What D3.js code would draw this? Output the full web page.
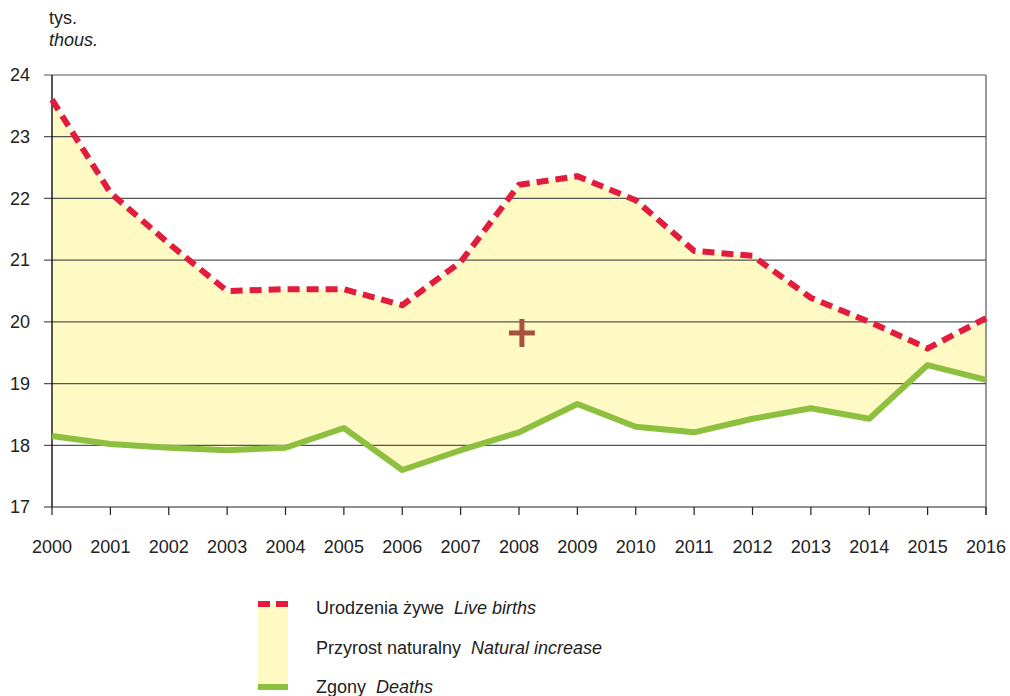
<!DOCTYPE html>
<html>
<head>
<meta charset="utf-8">
<script src="https://cdn.jsdelivr.net/npm/d3@7"></script>
<style>
  body { margin: 0; background: #fff; }
  svg { font-family: "Liberation Sans", Arial, sans-serif; }
</style>
</head>
<body>
<div id="chart"></div>
<script>
const years = [2000, 2001, 2002, 2003, 2004, 2005, 2006, 2007, 2008, 2009, 2010, 2011, 2012, 2013, 2014, 2015, 2016];
const births = [23.6, 22.09, 21.27, 20.5, 20.53, 20.53, 20.27, 20.97, 22.22, 22.36, 21.97, 21.15, 21.07, 20.39, 20.0, 19.57, 20.06];
const deaths = [18.15, 18.02, 17.96, 17.92, 17.96, 18.28, 17.6, 17.92, 18.21, 18.67, 18.3, 18.21, 18.43, 18.6, 18.43, 19.3, 19.06];
const yTicks = [17, 18, 19, 20, 21, 22, 23, 24];

const margin = {top: 75, right: 24, bottom: 189, left: 52};
const width = 1010 - margin.left - margin.right;
const height = 696 - margin.top - margin.bottom;

const svg = d3.select('#chart')
  .append('svg')
  .attr('width', 1010)
  .attr('height', 696);

const g = svg.append('g').attr('transform', `translate(${margin.left},${margin.top})`);

const x = d3.scaleLinear().domain([2000, 2016]).range([0, width]);
const y = d3.scaleLinear().domain([17, 24]).range([height, 0]);

const data = years.map((yr, i) => ({year: yr, b: births[i], d: deaths[i]}));

// fill between the two series
g.append('path')
  .datum(data)
  .attr('fill', '#fff9c4')
  .attr('d', d3.area().x(d => x(d.year)).y0(d => y(d.d)).y1(d => y(d.b)));

// grid lines
g.selectAll('.grid')
  .data(yTicks)
  .enter()
  .append('line')
  .attr('x1', -8)
  .attr('x2', width)
  .attr('y1', d => y(d))
  .attr('y2', d => y(d))
  .attr('stroke', d => d === 17 ? '#222' : '#555')
  .attr('stroke-width', 1.2);

g.selectAll('.ylab')
  .data(yTicks)
  .enter()
  .append('text')
  .attr('x', -22)
  .attr('y', d => y(d))
  .attr('dy', '0.35em')
  .attr('text-anchor', 'end')
  .attr('font-size', 18)
  .attr('fill', '#222')
  .text(d => d);

// axes frame
g.append('line').attr('x1', 0).attr('x2', 0).attr('y1', 0).attr('y2', height)
  .attr('stroke', '#111').attr('stroke-width', 1.4);
g.append('line').attr('x1', width).attr('x2', width).attr('y1', 0).attr('y2', height + 8)
  .attr('stroke', '#555').attr('stroke-width', 1.2);

// x ticks and labels
g.selectAll('.xtick')
  .data(years)
  .enter()
  .append('line')
  .attr('x1', d => x(d))
  .attr('x2', d => x(d))
  .attr('y1', height)
  .attr('y2', height + 8)
  .attr('stroke', '#222')
  .attr('stroke-width', 1.2);

g.selectAll('.xlab')
  .data(years)
  .enter()
  .append('text')
  .attr('x', d => x(d))
  .attr('y', height + 46)
  .attr('text-anchor', 'middle')
  .attr('font-size', 18)
  .attr('fill', '#222')
  .text(d => d);

// lines
const line = key => d3.line().x(d => x(d.year)).y(d => y(d[key]));

g.append('path')
  .datum(data)
  .attr('fill', 'none')
  .attr('stroke', '#8dc03f')
  .attr('stroke-width', 6)
  .attr('stroke-linejoin', 'round')
  .attr('d', line('d'));

g.append('path')
  .datum(data)
  .attr('fill', 'none')
  .attr('stroke', '#e31c3d')
  .attr('stroke-width', 6)
  .attr('stroke-dasharray', '12,7')
  .attr('d', line('b'));

// plus sign
const plus = g.append('g').attr('transform', `translate(${x(2008.05)},${y(19.82)})`);
plus.append('rect').attr('x', -13).attr('y', -2.5).attr('width', 26).attr('height', 5).attr('fill', '#a5533f');
plus.append('rect').attr('x', -2.5).attr('y', -14).attr('width', 5).attr('height', 28).attr('fill', '#a5533f');

// unit labels
svg.append('text').attr('x', 49).attr('y', 24).attr('font-size', 18).attr('fill', '#222').text('tys.');
svg.append('text').attr('x', 49).attr('y', 46).attr('font-size', 18).attr('font-style', 'italic').attr('fill', '#222').text('thous.');

// legend
const lg = svg.append('g').attr('transform', 'translate(258,604)');
lg.append('rect').attr('x', 0).attr('y', 0).attr('width', 30).attr('height', 82).attr('fill', '#fff9c4');
lg.append('rect').attr('x', 0).attr('y', -3).attr('width', 12).attr('height', 6).attr('fill', '#e31c3d');
lg.append('rect').attr('x', 18).attr('y', -3).attr('width', 12).attr('height', 6).attr('fill', '#e31c3d');
lg.append('rect').attr('x', 0).attr('y', 80).attr('width', 30).attr('height', 6).attr('fill', '#8dc03f');

const legendItems = [
  ['Urodzenia żywe', 'Live births', 4],
  ['Przyrost naturalny', 'Natural increase', 44],
  ['Zgony', 'Deaths', 83]
];
legendItems.forEach(([pl, en, dy]) => {
  const t = lg.append('text').attr('x', 58).attr('y', dy).attr('dy', '0.35em').attr('font-size', 18).attr('fill', '#222');
  t.append('tspan').text(pl + '\u00a0\u00a0');
  t.append('tspan').attr('font-style', 'italic').text(en);
});
</script>
</body>
</html>
